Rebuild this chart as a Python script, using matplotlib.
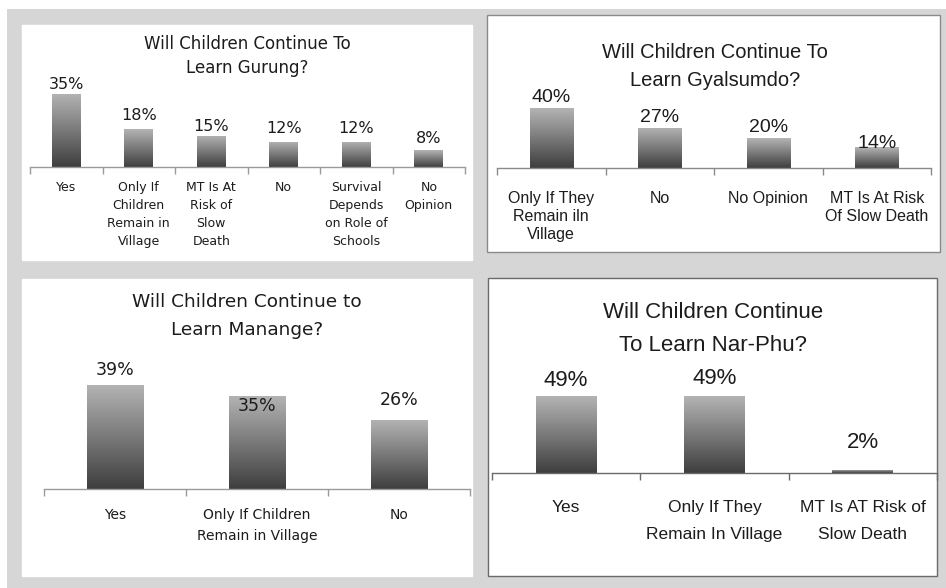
import matplotlib
matplotlib.use('Agg')
import matplotlib.pyplot as plt
import numpy as np
from matplotlib.patches import Rectangle
from matplotlib.colors import LinearSegmentedColormap

# survey answers, percent of respondents
gurung_labels = ['Yes', 'Only If\nChildren\nRemain in\nVillage', 'MT Is At\nRisk of\nSlow\nDeath',
                 'No', 'Survival\nDepends\non Role of\nSchools', 'No\nOpinion']
gurung_values = [35, 18, 15, 12, 12, 8]

gyalsumdo_labels = ['Only If They\nRemain iln\nVillage', 'No', 'No Opinion', 'MT Is At Risk\nOf Slow Death']
gyalsumdo_values = [40, 27, 20, 14]

manange_labels = ['Yes', 'Only If Children\nRemain in Village', 'No']
manange_values = [39, 35, 26]

narphu_labels = ['Yes', 'Only If They\nRemain In Village', 'MT Is AT Risk of\nSlow Death']
narphu_values = [49, 49, 2]

W, H = 946, 588
PT = 0.72  # points per pixel at 100 dpi
WIDE = ['DejaVu Sans']
NARROW = ['Liberation Sans', 'DejaVu Sans']
TXT = '#1c1c1c'

bar_cmap = LinearSegmentedColormap.from_list(
    'bar', [(0.0, '#3e3e3e'), (0.45, '#747474'), (1.0, '#b4b4b4')])


def fig_rect(x0, y0, x1, y1):
    return [x0 / W, 1 - y1 / H, (x1 - x0) / W, (y1 - y0) / H]


def draw_panel(fig, labels, values, title, box, axis_x, baseline, ppu, ymax,
               title_xy, title_size, title_ls, value_size, value_dy,
               cat_size, cat_ls, cat_pad, family, bar_w=0.4,
               border=None, axis_color='#9a9a9a'):
    x0, y0, x1, y1 = box
    fig.add_artist(Rectangle((x0 / W, 1 - y1 / H), (x1 - x0) / W, (y1 - y0) / H,
                             transform=fig.transFigure, facecolor='white',
                             edgecolor=border or 'white', linewidth=1.0, zorder=1))
    top = baseline - ymax * ppu
    ax = fig.add_axes(fig_rect(axis_x[0], top, axis_x[1], baseline))
    ax.set_facecolor('none')
    ax.set_zorder(2)
    n = len(values)
    x = np.arange(n)
    bars = ax.bar(x, values, width=bar_w, color='none', edgecolor='none')
    grad = np.linspace(0, 1, 256).reshape(-1, 1)
    for bar, v in zip(bars, values):
        bx = bar.get_x()
        im = ax.imshow(grad, extent=[bx, bx + bar.get_width(), 0, v], origin='lower',
                       aspect='auto', cmap=bar_cmap, zorder=2)
        im.set_clip_path(bar)
    # value_dy: label centre above the bar top, in pixels
    for i, v in enumerate(values):
        ax.annotate(f'{v}%', xy=(i, v), xytext=(0, value_dy[i] * PT),
                    textcoords='offset points', ha='center', va='center',
                    fontsize=value_size, family=family, color=TXT, zorder=3)
    ax.set_xlim(-0.5, n - 0.5)
    ax.set_ylim(0, ymax)
    for s in ['top', 'left', 'right']:
        ax.spines[s].set_visible(False)
    ax.spines['bottom'].set_color(axis_color)
    ax.spines['bottom'].set_linewidth(1.0)
    ax.set_yticks([])
    ax.set_xticks(x)
    ax.set_xticklabels(labels, fontsize=cat_size, family=family, color=TXT,
                       linespacing=cat_ls)
    ax.set_xticks(np.arange(n + 1) - 0.5, minor=True)
    ax.tick_params(axis='x', which='major', length=0, pad=cat_pad * PT)
    ax.tick_params(axis='x', which='minor', length=5, width=1.0, color=axis_color,
                   direction='out')
    fig.text(title_xy[0] / W, 1 - title_xy[1] / H, title, ha='center', va='center',
             multialignment='center', fontsize=title_size, family=family,
             color=TXT, linespacing=title_ls)
    return ax


fig = plt.figure(figsize=(W / 100, H / 100), dpi=100, facecolor='white')
fig.add_artist(Rectangle((7 / W, 0), 1 - 7 / W, 1 - 9 / H, transform=fig.transFigure,
                         facecolor='#d6d6d6', edgecolor='none', zorder=0))

draw_panel(fig, gurung_labels, gurung_values, 'Will Children Continue To\nLearn Gurung?',
           box=(22, 25, 472, 260), axis_x=(30, 465), baseline=167, ppu=2.09, ymax=40,
           title_xy=(247, 56), title_size=12, title_ls=1.46,
           value_size=11.5, value_dy=[9, 14, 9, 13, 13, 12],
           cat_size=9, cat_ls=1.5, cat_pad=14, family=WIDE)

draw_panel(fig, gyalsumdo_labels, gyalsumdo_values,
           'Will Children Continue To\nLearn Gyalsumdo?',
           box=(487, 15, 940, 252), axis_x=(497, 931), baseline=168, ppu=1.5, ymax=45,
           title_xy=(715, 67), title_size=14.5, title_ls=1.6,
           value_size=14, value_dy=[10, 10, 10, 4],
           cat_size=11.5, cat_ls=1.25, cat_pad=23, family=NARROW,
           border='#8a8a8a', axis_color='#8a8a8a')

draw_panel(fig, manange_labels, manange_values, 'Will Children Continue to\nLearn Manange?',
           box=(22, 279, 472, 576), axis_x=(44, 470), baseline=489, ppu=2.67, ymax=45,
           title_xy=(247, 316), title_size=13.3, title_ls=1.68,
           value_size=12.5, value_dy=[15, -10, 20],
           cat_size=10, cat_ls=1.65, cat_pad=19, family=WIDE)

draw_panel(fig, narphu_labels, narphu_values, 'Will Children Continue\nTo Learn Nar-Phu?',
           box=(488, 278, 937, 576), axis_x=(492, 937), baseline=473, ppu=1.57, ymax=55,
           title_xy=(713, 329), title_size=16, title_ls=1.8,
           value_size=16, value_dy=[16, 18, 27],
           cat_size=12.5, cat_ls=1.98, cat_pad=27, family=NARROW, bar_w=0.41,
           border='#6a6a6a', axis_color='#6a6a6a')

fig.savefig('out.png', dpi=100, facecolor='white')
